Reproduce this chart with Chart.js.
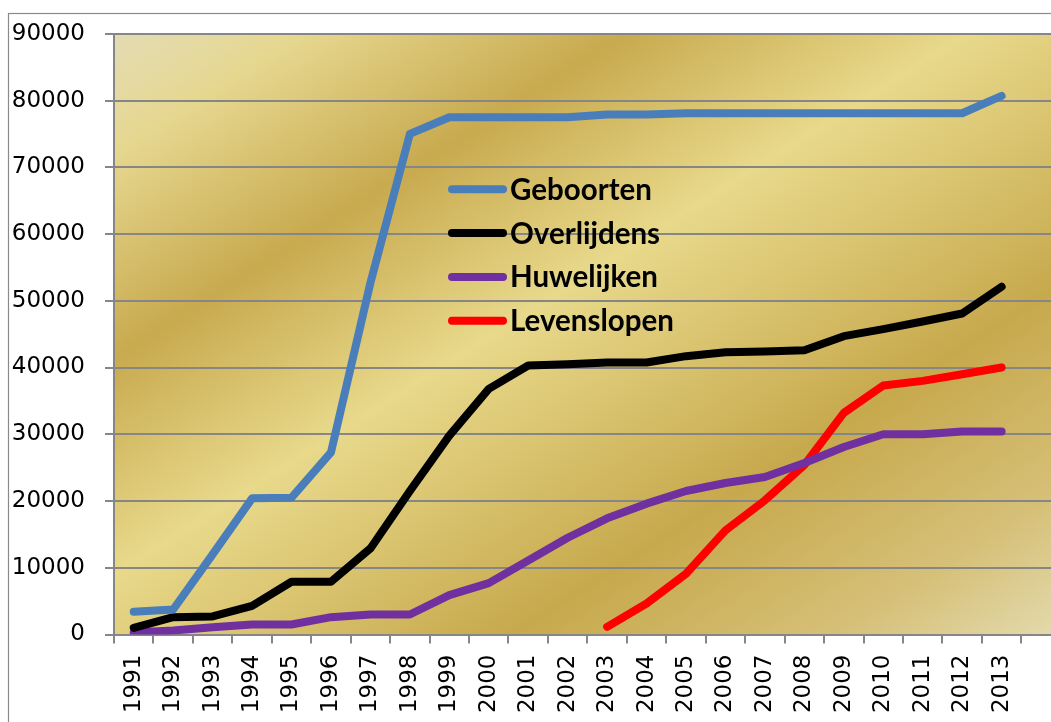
<!DOCTYPE html>
<html><head><meta charset="utf-8">
<script src="https://cdn.jsdelivr.net/npm/chart.js@4.4.1/dist/chart.umd.min.js"></script>
<style>
html,body{margin:0;padding:0;overflow:hidden;background:#fff;width:1051px;height:722px;}
#wrap{position:absolute;left:0;top:0;width:1080px;height:740px;}
</style></head><body>
<div id="wrap"><canvas id="c"></canvas></div>
<script>
// ---- data ----
const years = ['1991','1992','1993','1994','1995','1996','1997','1998','1999','2000','2001','2002',
               '2003','2004','2005','2006','2007','2008','2009','2010','2011','2012','2013'];
const geboorten   = [3400, 3750, 12000, 20400, 20500, 27300, 52700, 75000, 77500, 77500, 77500, 77500,
                     77900, 77900, 78100, 78100, 78100, 78100, 78100, 78100, 78100, 78100, 80700];
const overlijdens = [1000, 2600, 2700, 4300, 7900, 7900, 12900, 21500, 29800, 36800, 40300, 40500,
                     40750, 40750, 41700, 42300, 42400, 42600, 44700, 45750, 46900, 48100, 52100];
const huwelijken  = [300, 600, 1100, 1500, 1500, 2600, 3000, 3000, 5900, 7700, 11100, 14500,
                     17400, 19600, 21500, 22700, 23600, 25700, 28100, 30000, 30000, 30400, 30400];
const levenslopen = [null, null, null, null, null, null, null, null, null, null, null, null,
                     1150, 4650, 9100, 15600, 20100, 25400, 33200, 37300, 38000, 39000, 40000];
const seriesNames = ['Geboorten', 'Overlijdens', 'Huwelijken', 'Levenslopen'];
const seriesColors = ['#4a7ebb', '#000000', '#7030a0', '#ff0000'];
const yMin = 0, yMax = 90000, yStep = 10000;

// the original plot has one trailing, unlabeled category slot
const categories = years.concat(['']);

const GRID = '#868686';
const TICK_FONT = { family: "'DejaVu Sans'", size: 23 };

const bgPlugin = {
  id: 'bg',
  beforeDraw(chart) {
    const ctx = chart.ctx, a = chart.chartArea;
    ctx.save();
    ctx.strokeStyle = '#8a8a8a';
    ctx.lineWidth = 1.2;
    ctx.strokeRect(8.5, 13.5, 2000, 2000);
    const W = a.right - a.left, H = a.bottom - a.top;
    const n2 = W * W + H * H;
    const g = ctx.createLinearGradient(a.left, a.top,
      a.left + 2 * W * H * H / n2, a.top + 2 * W * W * H / n2);
    g.addColorStop(0.00, '#e3dcb4');
    g.addColorStop(0.10, '#e6d78f');
    g.addColorStop(0.27, '#c8aa4f');
    g.addColorStop(0.45, '#e8d98b');
    g.addColorStop(0.71, '#c7a94d');
    g.addColorStop(0.88, '#d6c078');
    g.addColorStop(1.00, '#e3daad');
    ctx.fillStyle = g;
    ctx.fillRect(a.left, a.top, W, H);
    ctx.restore();
  }
};

const legendPlugin = {
  id: 'innerLegend',
  afterDraw(chart) {
    const ctx = chart.ctx, a = chart.chartArea;
    ctx.save();
    const x0 = a.left + 338, x1 = a.left + 389, tx = a.left + 396;
    const y0 = a.top + 155.5, dy = 43.8;
    ctx.font = 'bold 29.5px Lato';
    ctx.textBaseline = 'middle';
    ctx.textAlign = 'left';
    chart.data.datasets.forEach((ds, i) => {
      const y = y0 + i * dy;
      ctx.strokeStyle = ds.borderColor;
      ctx.lineWidth = 8;
      ctx.lineCap = 'round';
      ctx.beginPath(); ctx.moveTo(x0, y); ctx.lineTo(x1, y); ctx.stroke();
      ctx.fillStyle = '#000';
      ctx.fillText(ds.label, tx, y + 1);
    });
    ctx.restore();
  }
};

const values = [geboorten, overlijdens, huwelijken, levenslopen];
const datasets = values.map((v, i) => ({
  label: seriesNames[i],
  data: v,
  borderColor: seriesColors[i],
  backgroundColor: seriesColors[i],
  borderWidth: 8,
  borderCapStyle: 'round',
  borderJoinStyle: 'round',
  pointRadius: 0,
  pointHoverRadius: 0,
  tension: 0,
  fill: false,
  spanGaps: false
}));

new Chart(document.getElementById('c'), {
  type: 'line',
  data: { labels: categories, datasets },
  options: {
    responsive: true,
    maintainAspectRatio: false,
    animation: false,
    devicePixelRatio: 1,
    layout: { padding: { left: 0, top: 32.5, right: 16, bottom: 0 } },
    plugins: { legend: { display: false }, tooltip: { enabled: false } },
    scales: {
      x: {
        type: 'category',
        offset: true,
        grid: { offset: true, drawOnChartArea: false, drawTicks: true, tickLength: 9,
                color: GRID, lineWidth: 2 },
        border: { display: true, color: GRID, width: 2 },
        ticks: { autoSkip: false, minRotation: 90, maxRotation: 90, padding: 11,
                 color: '#000', font: TICK_FONT },
        afterFit(s) { s.height = 105.5; }
      },
      y: {
        min: yMin, max: yMax,
        grid: { color: GRID, lineWidth: 2, tickLength: 9, drawTicks: true },
        border: { display: true, color: GRID, width: 2 },
        ticks: { stepSize: yStep, padding: 20, color: '#000', font: TICK_FONT,
                 callback: (v) => String(v) },
        afterFit(s) { s.width = 114; }
      }
    }
  },
  plugins: [bgPlugin, legendPlugin]
});
</script>
</body></html>
